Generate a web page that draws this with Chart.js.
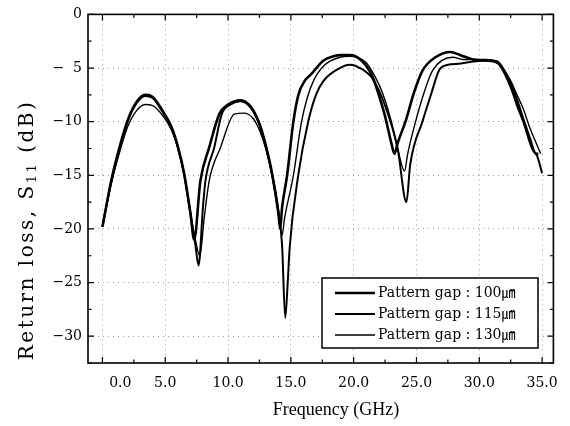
<!DOCTYPE html>
<html>
<head>
<meta charset="utf-8">
<script src="https://cdn.jsdelivr.net/npm/chart.js@4.4.0/dist/chart.umd.min.js"></script>
<style>
  html, body { margin: 0; padding: 0; background: #fff; }
  #wrap { position: relative; width: 570px; height: 426px; }
</style>
</head>
<body>
<div id="wrap"><canvas id="chart"></canvas></div>
<script>
// ----------------- DATA -----------------
const xTicks = [0, 5, 10, 15, 20, 25, 30, 35];
const yTicks = [0, -5, -10, -15, -20, -25, -30];
const seriesLabels = ['Pattern gap : 100\u339B', 'Pattern gap : 115\u339B', 'Pattern gap : 130\u339B'];

// Pattern gap 100um
const freqA = [0, 0.7, 1.5, 2, 2.7, 3.4, 4, 4.9, 5.5, 6, 6.5, 7, 7.3, 7.8, 8.5, 9.3, 10, 11, 11.8, 12.5,
  13, 13.5, 14, 14.15, 14.3, 14.7, 15.2, 15.6, 16.1, 16.6, 17.6, 18.4, 19, 19.7, 20.3, 21, 21.5, 22, 22.5, 23,
  23.25, 23.5, 24.15, 24.8, 25.5, 26.5, 27.7, 28.5, 29.5, 30.5, 31.4, 32, 32.5, 33, 33.5, 34, 34.5, 34.7];
const lossA = [-19.8, -15.5, -11.8, -9.9, -8.2, -7.5, -7.7, -9.2, -10.5, -12.3, -14.8, -18.5, -21, -15.5, -12.4, -9.3, -8.4, -8.0, -8.6, -10.2,
  -12.2, -14.8, -18.5, -20.0, -18, -15, -10, -7.5, -6.2, -5.6, -4.3, -3.9, -3.8, -3.8, -4.0, -4.8, -5.8, -7.5, -9.5, -12,
  -13, -12, -9.9, -7.3, -5.2, -4.0, -3.5, -3.8, -4.2, -4.3, -4.4, -5.3, -6.5, -8, -9.8, -11.5, -13, -13];

// Pattern gap 115um
const freqB = [0, 0.7, 1.5, 2, 2.7, 3.4, 4, 4.9, 5.5, 6, 6.5, 7, 7.4, 7.65, 8, 8.2, 8.9, 9.5, 10.2, 11,
  11.8, 12.5, 13, 13.5, 14, 14.3, 14.55, 14.75, 14.9, 15.6, 16.4, 17, 17.6, 18.9, 19.7, 20.5, 21.5, 22.5, 23.5, 24.2,
  24.5, 25.5, 26.2, 26.8, 27.5, 28.4, 29.5, 30.5, 31.5, 32.5, 33, 33.5, 34.2, 34.6, 35];
const lossB = [-19.8, -15.6, -12, -10, -8.3, -7.6, -7.8, -9.3, -10.6, -12.4, -14.9, -18.5, -21.5, -23.4, -18, -15.5, -12.4, -9.3, -8.4, -8.1,
  -8.7, -10.3, -12.3, -14.9, -18.2, -21.5, -28.3, -25, -21.8, -14.9, -9.9, -7.5, -6.2, -5.0, -4.7, -5.0, -6.0, -8.5, -12.5, -17.5,
  -14, -9.9, -7.3, -5.2, -4.7, -4.6, -4.4, -4.3, -4.6, -6.8, -8.5, -10, -12.5, -13.2, -14.8];

// Pattern gap 130um
const freqC = [0, 0.7, 1.5, 2, 2.7, 3.4, 4, 4.9, 5.5, 6, 6.5, 7, 7.4, 7.75, 8.1, 8.5, 9.4, 10.5, 11.25, 12,
  12.5, 13, 13.5, 14, 14.3, 14.5, 15.2, 15.85, 16.3, 16.8, 17.7, 18.9, 19.7, 20.3, 21, 22, 22.5, 23, 23.5, 24.05,
  24.3, 24.95, 25.6, 26.3, 27.9, 28.7, 29.5, 30.5, 31.5, 32.5, 33, 33.5, 34, 34.6, 34.9];
const lossC = [-19.8, -15.8, -12.3, -10.5, -9, -8.4, -8.5, -9.6, -10.8, -12.4, -14.9, -18.5, -21, -22.5, -19, -15.5, -12.4, -9.3, -9.2, -9.7,
  -10.8, -12.5, -15, -18.5, -20.6, -19, -15, -10, -7.8, -6.2, -4.7, -4.0, -3.9, -4.0, -4.5, -6.5, -8, -10, -12.5, -14.6,
  -13, -9.9, -7.3, -5.2, -4.0, -4.2, -4.2, -4.2, -4.5, -6.2, -7.5, -8.8, -10.5, -12.2, -13];

const toPoints = (xs, ys) => xs.map((x, i) => ({ x, y: ys[i] }));

// ----------------- STYLE -----------------
const SERIF = '"DejaVu Serif", "Liberation Serif", "Noto Sans CJK KR", serif';
const lineWidths = [2.6, 2.0, 1.4];

function makeDataset(label, xs, ys, w) {
  return {
    label,
    data: toPoints(xs, ys),
    borderColor: '#000',
    backgroundColor: 'transparent',
    borderWidth: w,
    pointRadius: 0,
    cubicInterpolationMode: 'monotone'
  };
}

// ----------------- DECORATIONS: frame, inward ticks, titles, legend -----------------
const decorPlugin = {
  id: 'decor',
  afterDraw(chart) {
    const { ctx, chartArea: a, scales: { x, y } } = chart;
    ctx.save();

    // ticks (major + minor, inward, all four sides)
    ctx.strokeStyle = '#000';
    ctx.lineWidth = 1.2;
    ctx.beginPath();
    for (let v = 0; v <= 35.001; v += 2.5) {
      const px = x.getPixelForValue(v);
      const len = (v % 5 === 0) ? 6 : 3.5;
      ctx.moveTo(px, a.bottom); ctx.lineTo(px, a.bottom - len);
      ctx.moveTo(px, a.top); ctx.lineTo(px, a.top + len);
    }
    for (let v = 0; v >= -32.5; v -= 2.5) {
      const py = y.getPixelForValue(v);
      const len = (v % 5 === 0) ? 6 : 3.5;
      ctx.moveTo(a.left, py); ctx.lineTo(a.left + len, py);
      ctx.moveTo(a.right, py); ctx.lineTo(a.right - len, py);
    }
    ctx.stroke();

    // frame
    ctx.lineWidth = 1.6;
    ctx.strokeRect(a.left, a.top, a.right - a.left, a.bottom - a.top);

    // x title
    ctx.fillStyle = '#000';
    ctx.font = '18px "Liberation Serif", serif';
    ctx.textAlign = 'center';
    ctx.textBaseline = 'middle';
    ctx.fillText('Frequency (GHz)', 336, 410);

    // y title with subscript
    ctx.save();
    ctx.translate(28, 230);
    ctx.rotate(-Math.PI / 2);
    ctx.textAlign = 'left';
    ctx.textBaseline = 'middle';
    if ('letterSpacing' in ctx) ctx.letterSpacing = '2.5px';
    const parts = [['Return loss, S', 20, 0], ['11', 13, 5], [' (dB)', 20, 0]];
    let total = 0;
    parts.forEach(p => { ctx.font = p[1] + 'px ' + SERIF; total += ctx.measureText(p[0]).width; });
    let cx = -total / 2;
    parts.forEach(p => {
      ctx.font = p[1] + 'px ' + SERIF;
      ctx.fillText(p[0], cx, p[2]);
      cx += ctx.measureText(p[0]).width;
    });
    ctx.restore();

    // legend box
    const bx = 322, by = 278, bw = 216, bh = 70;
    ctx.fillStyle = '#fff';
    ctx.fillRect(bx, by, bw, bh);
    ctx.strokeStyle = '#000';
    ctx.lineWidth = 1.5;
    ctx.strokeRect(bx, by, bw, bh);
    ctx.font = '14px ' + SERIF;
    ctx.textAlign = 'left';
    ctx.textBaseline = 'middle';
    chart.data.datasets.forEach((ds, i) => {
      const ly = by + 15 + i * 21;
      ctx.lineWidth = ds.borderWidth;
      ctx.beginPath();
      ctx.moveTo(bx + 13, ly);
      ctx.lineTo(bx + 53, ly);
      ctx.stroke();
      ctx.fillStyle = '#000';
      ctx.fillText(ds.label, bx + 56, ly);
    });

    ctx.restore();
  }
};

// ----------------- CHART -----------------
const ctx = document.getElementById('chart').getContext('2d');
new Chart(ctx, {
  type: 'line',
  data: {
    datasets: [
      makeDataset(seriesLabels[0], freqA, lossA, lineWidths[0]),
      makeDataset(seriesLabels[1], freqB, lossB, lineWidths[1]),
      makeDataset(seriesLabels[2], freqC, lossC, lineWidths[2])
    ]
  },
  options: {
    responsive: true,
    maintainAspectRatio: false,
    animation: false,
    layout: { padding: { top: 14, right: 13, left: 0, bottom: 0 } },
    plugins: {
      legend: { display: false },
      tooltip: { enabled: false }
    },
    scales: {
      x: {
        type: 'linear',
        min: -1.15,
        max: 35.9,
        afterFit: s => { s.height = 63; },
        afterBuildTicks: s => { s.ticks = xTicks.map(v => ({ value: v })); },
        ticks: {
          color: '#000',
          padding: 12,
          maxRotation: 0,
          autoSkip: false,
          font: { family: SERIF, size: 14 },
          callback: v => v === 0 ? '\u2007\u2007\u2007\u20070.0' : Number(v).toFixed(1)
        },
        grid: { color: '#9a9a9a', lineWidth: 1, drawTicks: false },
        border: { display: false, dash: [1, 4] }
      },
      y: {
        type: 'linear',
        min: -32.5,
        max: 0,
        afterFit: s => { s.width = 88; },
        afterBuildTicks: s => { s.ticks = yTicks.map(v => ({ value: v })); },
        ticks: {
          color: '#000',
          padding: 6,
          autoSkip: false,
          font: { family: SERIF, size: 14 },
          callback: v => v === 0 ? '0' : '\u2212' + (Math.abs(v) < 10 ? '\u2007' : '') + Math.abs(v)
        },
        grid: { color: '#9a9a9a', lineWidth: 1, drawTicks: false },
        border: { display: false, dash: [1, 4] }
      }
    }
  },
  plugins: [decorPlugin]
});
</script>
</body>
</html>
